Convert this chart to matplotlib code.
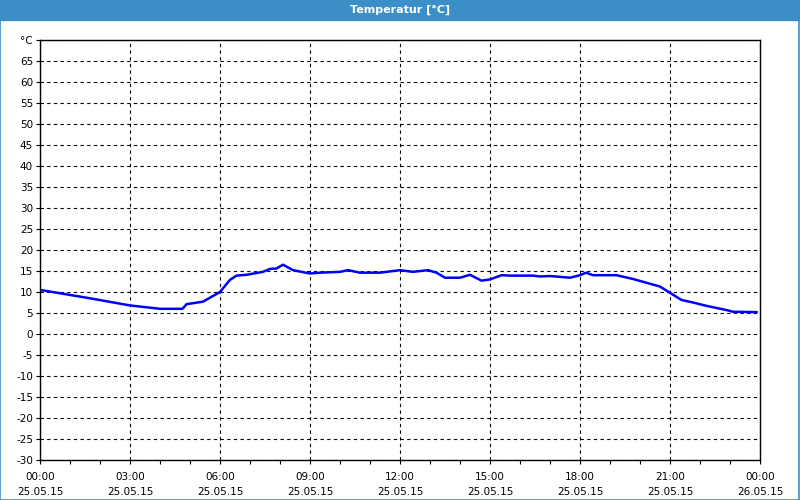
import pandas as pd
import numpy as np
import matplotlib
matplotlib.use("Agg")
import matplotlib.pyplot as plt
import matplotlib.dates as mdates
from matplotlib.patches import Rectangle

# readings of 25.05.15 (time, temperature in degC)
times = ["00:00", "01:40", "03:00", "04:00", "04:45", "04:53", "05:26", "06:00",
         "06:20", "06:33", "06:53", "07:26", "07:40", "07:53", "08:06", "08:26",
         "09:00", "09:20", "10:00", "10:16", "10:40", "11:20", "12:00", "12:26",
         "12:56", "13:13", "13:30", "14:00", "14:20", "14:43", "15:00", "15:23",
         "15:40", "16:26", "16:40", "17:00", "17:40", "18:00", "18:12", "18:26",
         "19:13", "19:46", "20:13", "20:40", "21:00", "21:23", "21:46", "22:13",
         "22:53", "23:06", "23:53"]
temps = [10.5, 8.5, 6.8, 6.0, 6.0, 7.1, 7.7, 10.0,
         12.9, 13.9, 14.1, 14.8, 15.5, 15.6, 16.5, 15.2,
         14.4, 14.6, 14.8, 15.2, 14.6, 14.6, 15.2, 14.8,
         15.2, 14.6, 13.4, 13.4, 14.1, 12.7, 13.0, 14.0,
         13.9, 13.9, 13.7, 13.8, 13.4, 14.0, 14.6, 14.0,
         14.0, 13.1, 12.2, 11.3, 9.8, 8.1, 7.5, 6.7,
         5.7, 5.3, 5.2]

y_ticks = list(range(-30, 70, 5))
day = pd.Timestamp("2015-05-25")

t = pd.to_datetime(["2015-05-25 " + s for s in times])

fig = plt.figure(figsize=(8, 5), dpi=100)
fig.patch.set_facecolor("white")

# title bar and frame
blue = "#3c8fc6"
fig.patches.append(Rectangle((0, 0.96), 1, 0.04, transform=fig.transFigure,
                             color=blue, zorder=0))
fig.patches.append(Rectangle((0.0006, 0.001), 0.9982, 0.998, transform=fig.transFigure,
                             fill=False, edgecolor=blue, lw=1.2, zorder=0))
fig.text(0.5, 0.98, "Temperatur [°C]", color="white", fontsize=8, fontweight="bold",
         ha="center", va="center")

ax = fig.add_axes([0.05, 0.08, 0.90, 0.84])
ax.plot(t, temps, color="#0000ff", lw=1.8)

ax.set_xlim(day, day + pd.Timedelta(hours=24))
ax.set_ylim(-30, 70)

ax.xaxis.set_major_locator(mdates.HourLocator(byhour=range(0, 24, 3)))
ax.xaxis.set_minor_locator(mdates.HourLocator())
ax.xaxis.set_major_formatter(mdates.DateFormatter("%H:%M\n%d.%m.%y"))
ax.set_yticks(y_ticks + [70])
ax.set_yticklabels([str(v) for v in y_ticks] + ["°C"])

ax.tick_params(axis="both", labelsize=7.5, length=3, width=0.8, color="black", pad=2)
ax.tick_params(axis="x", which="minor", length=3, width=0.8)
ax.tick_params(axis="x", pad=6)
for lab in ax.get_xticklabels():
    lab.set_linespacing(1.6)

ax.grid(True, which="major", color="black", linestyle=(0, (3, 3)), lw=0.8)
for s in ax.spines.values():
    s.set_linewidth(1)

fig.savefig("out.png", dpi=100)
